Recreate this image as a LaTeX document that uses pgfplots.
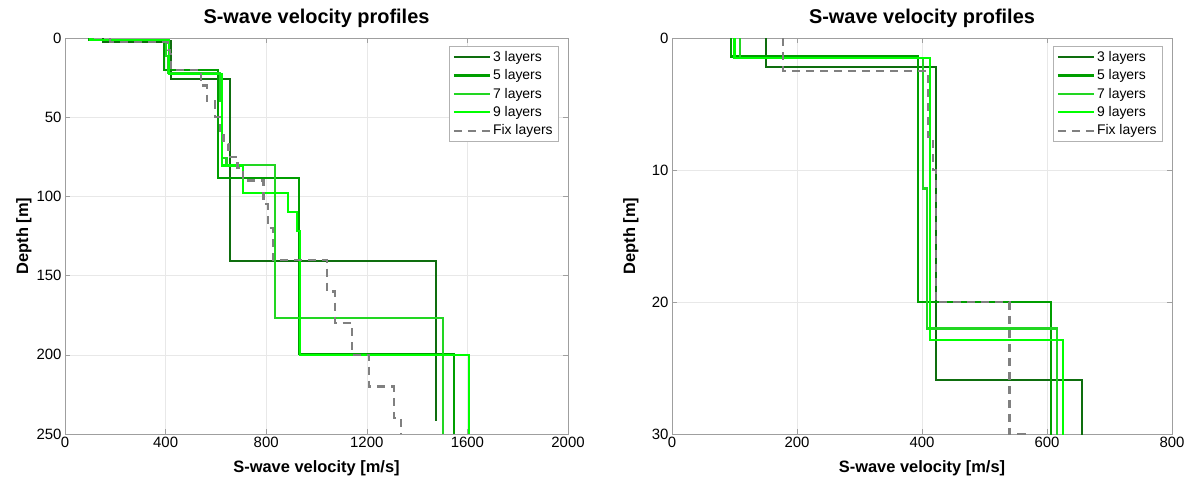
\documentclass[border=0pt]{standalone}
\usepackage{fontspec}
\setmainfont{Liberation Sans}
\usepackage{pgfplots}
\usepackage{pgfplotstable}
\pgfplotsset{compat=1.18}

\definecolor{lay3}{RGB}{14,110,14}
\definecolor{lay5}{RGB}{0,158,0}
\definecolor{lay7}{RGB}{34,214,34}
\definecolor{lay9}{RGB}{0,255,0}
\definecolor{fixl}{RGB}{128,128,128}

% velocity [m/s], depth [m] -- step profiles
\pgfplotstableread{
v d
150 0
150 2.2
422 2.2
422 25.9
656 25.9
656 141
1474 141
1474 241.6
}\threelay

\pgfplotstableread{
v d
94 0
94 1.4
394 1.4
394 20
607 20
607 88.6
931 88.6
931 199.5
1547 199.5
1547 250
}\fivelay

\pgfplotstableread{
v d
109 0
109 1.5
401 1.5
401 11.4
408 11.4
408 22
616 22
616 40
624 40
624 76
642 76
642 80
835 80
835 176.7
1503 176.7
1503 250
}\sevenlay

\pgfplotstableread{
v d
100 0
100 1.5
413 1.5
413 22.9
625 22.9
625 80.5
708 80.5
708 97.7
888 97.7
888 110
922 110
922 122
933 122
933 200
1607 200
1607 250
}\ninelay

\pgfplotstableread{
v d
178 0
178 2.5
410 2.5
410 7.5
418 7.5
418 10
422 10
422 20
540 20
540 30
565 30
565 40
596 40
596 50
616 50
616 60
630 60
630 67
650 67
650 75
686 75
686 82
708 82
708 90
789 90
789 105
806 105
806 120
826 120
826 140
1042 140
1042 160
1074 160
1074 180
1140 180
1140 200
1209 200
1209 220
1308 220
1308 240
1336 240
1336 250
}\fixlay

\pgfplotsset{
  vsprof/.style={
    scale only axis, height=396bp,
    y dir=reverse,
    axis line style={gray!75, line width=0.6bp},
    tick style={gray!75, line width=0.6bp},
    major tick length=5bp,
    tick align=inside,
    xtick pos=both, ytick pos=both,
    xticklabel pos=lower, yticklabel pos=left,
    grid=major,
    major grid style={gray!18, line width=0.5bp},
    ticklabel style={font=\fontsize{15}{18}\selectfont},
    /pgf/number format/assume math mode=true,
    /pgf/number format/1000 sep={},
    title={\textbf{S-wave velocity profiles}},
    title style={font=\fontsize{20}{24}\selectfont, at={(axis description cs:0.5,1.022)}, anchor=base},
    xlabel={\textbf{S-wave velocity [m/s]}},
    ylabel={\textbf{Depth [m]}},
    label style={font=\fontsize{16.5}{20}\selectfont},
    xlabel style={at={(axis description cs:0.5,-0.096)}, anchor=base},
    legend style={at={(axis description cs:1,1)}, xshift=-9bp, yshift=-8bp,
      anchor=north east, draw=gray!60, line width=0.6bp,
      font=\fontsize{14}{16}\selectfont, row sep=2.8bp,
      inner xsep=4bp, inner ysep=3bp, cells={anchor=west}},
    legend image code/.code={\draw[#1] (0bp,0bp) -- (36bp,0bp);},
  },
  p3/.style={lay3, line width=2.2bp, line join=miter},
  p5/.style={lay5, line width=2.2bp, line join=miter},
  p7/.style={lay7, line width=2.2bp, line join=miter},
  p9/.style={lay9, line width=2.2bp, line join=miter},
  pfix/.style={fixl, line width=2.2bp, dash pattern=on 8bp off 6bp},
}

\begin{document}
\begin{tikzpicture}
\path[use as bounding box] (0,0) rectangle (1191bp,487bp);

\begin{axis}[vsprof, width=503bp, at={(65bp,53bp)}, anchor=south west,
  xmin=0, xmax=2000, ymin=0, ymax=250,
  xtick={0,400,...,2000}, ytick={0,50,...,250},
  ylabel style={at={(axis description cs:-0.0735,0.5)}, anchor=base}]
\addplot[p3] table[x=v, y=d] {\threelay};
\addplot[p5] table[x=v, y=d] {\fivelay};
\addplot[p7] table[x=v, y=d] {\sevenlay};
\addplot[p9] table[x=v, y=d] {\ninelay};
\addplot[pfix] table[x=v, y=d] {\fixlay};
\legend{3 layers, 5 layers, 7 layers, 9 layers, Fix layers}
\end{axis}

\begin{axis}[vsprof, width=500bp, at={(672bp,53bp)}, anchor=south west,
  xmin=0, xmax=800, ymin=0, ymax=30,
  xtick={0,200,...,800}, ytick={0,10,20,30},
  ylabel style={at={(axis description cs:-0.074,0.5)}, anchor=base}]
\addplot[p3] table[x=v, y=d] {\threelay};
\addplot[p5] table[x=v, y=d] {\fivelay};
\addplot[p7] table[x=v, y=d] {\sevenlay};
\addplot[p9] table[x=v, y=d] {\ninelay};
\addplot[pfix] table[x=v, y=d] {\fixlay};
\legend{3 layers, 5 layers, 7 layers, 9 layers, Fix layers}
\end{axis}
\end{tikzpicture}
\end{document}
